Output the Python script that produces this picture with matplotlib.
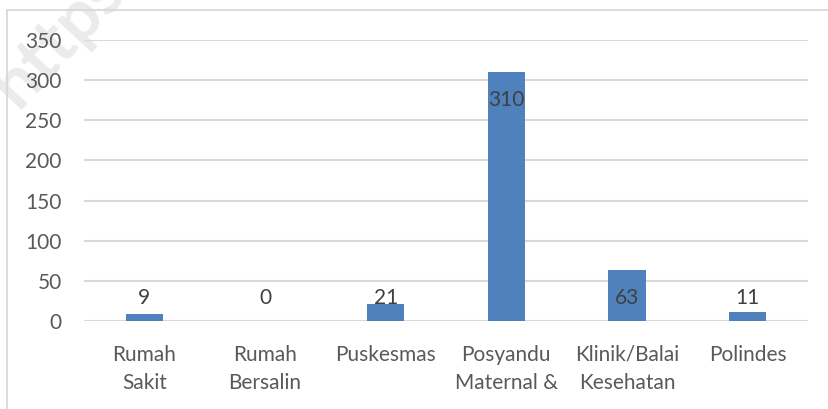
import numpy as np
import matplotlib.pyplot as plt
from matplotlib.patches import Rectangle

categories = ['Rumah\nSakit', 'Rumah\nBersalin', 'Puskesmas', 'Posyandu\nMaternal &',
              'Klinik/Balai\nKesehatan', 'Polindes']
values = [9, 0, 21, 310, 63, 11]
yticks = [0, 50, 100, 150, 200, 250, 300, 350]

TXT = '#595959'
BAR = '#4F81BD'
GRID = '#d9d9d9'

plt.rcParams['font.family'] = ['Lato', 'DejaVu Sans']

fig = plt.figure(figsize=(8.29, 4.09), dpi=100)
W, H = 829, 409

# chart frame (cropped on right and bottom)
fig.patches.append(Rectangle((7 / W, -0.1), 1.0, 1 - 10 / H + 0.1, transform=fig.transFigure,
                             fill=False, edgecolor=GRID, linewidth=1.3))

# faint watermark behind everything
fig.text(58 / W, 1 - 38 / H, 'https', rotation=47, fontsize=50, fontweight='bold',
         color='#ebebeb', ha='center', va='center', zorder=-1)

ax = fig.add_axes([84 / W, 1 - 321 / H, (808 - 84) / W, (321 - 40) / H])
x = np.arange(len(categories))
ax.bar(x, values, width=0.31, color=BAR, zorder=3)
ax.set_xlim(-0.5, len(categories) - 0.5)
ax.set_ylim(0, 350)
ax.set_yticks(yticks)
ax.set_xticks(x)
ax.set_xticklabels(categories, linespacing=1.5)
ax.tick_params(axis='both', length=0, labelsize=15, labelcolor=TXT)
ax.tick_params(axis='y', pad=16)
ax.tick_params(axis='x', pad=17)
for lbl in ax.get_xticklabels():
    lbl.set_va('top')
ax.grid(axis='y', color=GRID, linewidth=1.5, zorder=0)
for s in ax.spines.values():
    s.set_visible(False)
ax.patch.set_alpha(0)

for xi, v in zip(x, values):
    ly = max(v - 35, 29)
    ax.text(xi, ly, str(v), ha='center', va='center', fontsize=15, color='#404040', zorder=4)

fig.savefig('out.png', dpi=100)
